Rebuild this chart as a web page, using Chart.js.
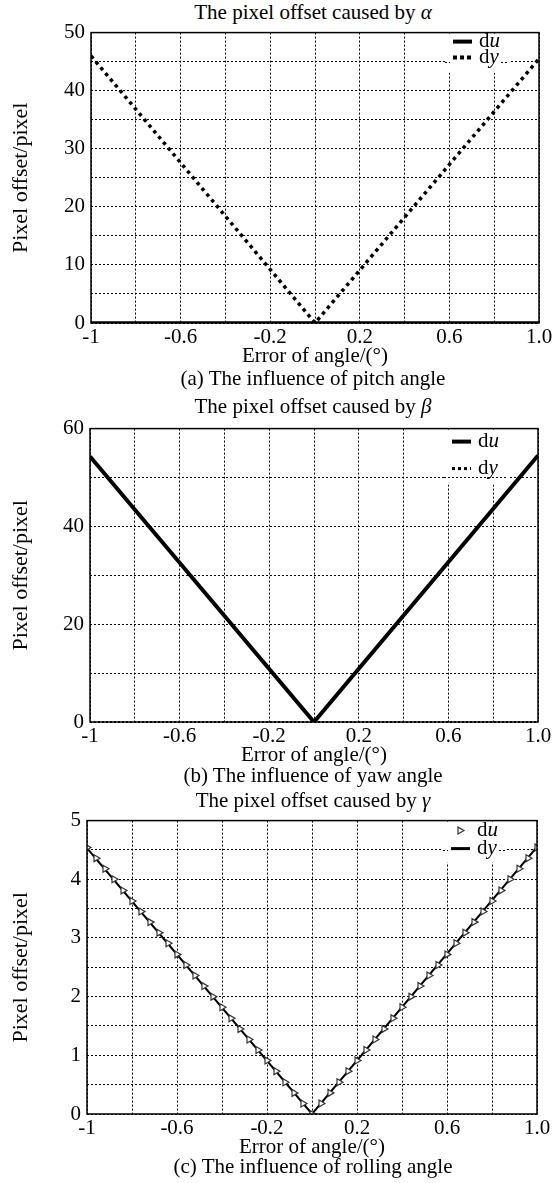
<!DOCTYPE html>
<html>
<head>
<meta charset="utf-8">
<script src="https://cdn.jsdelivr.net/npm/chart.js@4.4.0/dist/chart.umd.min.js"></script>
<style>
body { margin: 0; background: #fff; font-family: "Liberation Serif", serif; }
#page { position: relative; width: 555px; height: 1183px; overflow: hidden; }
.txt { position: absolute; left: 113px; width: 400px; text-align: center; font-size: 21px; line-height: 24px; color: #000; white-space: nowrap; }
canvas { position: absolute; left: 0; }
</style>
</head>
<body>
<div id="page">
  <div class="txt" style="top:0px">The pixel offset caused by <i>α</i></div>
  <canvas id="chartA"></canvas>
  <div class="txt" style="top:366px">(a) The influence of pitch angle</div>

  <div class="txt" style="top:394px">The pixel offset caused by <i>β</i></div>
  <canvas id="chartB"></canvas>
  <div class="txt" style="top:763px">(b) The influence of yaw angle</div>

  <div class="txt" style="top:788px">The pixel offset caused by <i>γ</i></div>
  <canvas id="chartC"></canvas>
  <div class="txt" style="top:1154px">(c) The influence of rolling angle</div>
</div>
<script>
// axe des abscisses, commun aux trois graphiques
const xTickVals = [-1, -0.6, -0.2, 0.2, 0.6, 1.0];
const xTickLabels = ['-1', '-0.6', '-0.2', '0.2', '0.6', '1.0'];

// (a) pitch angle
const xA = [-1, 0, 1];
const duA = [0, 0, 0];
const dyA = [46, 0, 45.5];
const yTicksA = [0, 10, 20, 30, 40, 50];

// (b) yaw angle
const xB = [-1, 0, 1];
const duB = [54.3, 0, 54.5];
const dyB = [0, 0, 0];
const yTicksB = [0, 20, 40, 60];

// (c) rolling angle
const xCu = [-1, -0.96, -0.92, -0.88, -0.84, -0.8, -0.76, -0.72, -0.68, -0.64, -0.6, -0.56, -0.52,
  -0.48, -0.44, -0.4, -0.36, -0.32, -0.28, -0.24, -0.2, -0.16, -0.12, -0.08, -0.04, 0,
  0.04, 0.08, 0.12, 0.16, 0.2, 0.24, 0.28, 0.32, 0.36, 0.4, 0.44, 0.48, 0.52, 0.56, 0.6,
  0.64, 0.68, 0.72, 0.76, 0.8, 0.84, 0.88, 0.92, 0.96, 1];
const duC = [4.54, 4.36, 4.18, 4.0, 3.81, 3.63, 3.45, 3.27, 3.09, 2.91, 2.72, 2.54, 2.36,
  2.18, 2.0, 1.82, 1.63, 1.45, 1.27, 1.09, 0.91, 0.73, 0.54, 0.36, 0.18, 0,
  0.18, 0.36, 0.54, 0.73, 0.91, 1.09, 1.27, 1.45, 1.63, 1.82, 2.0, 2.18, 2.36, 2.54, 2.72,
  2.91, 3.09, 3.27, 3.45, 3.63, 3.81, 4.0, 4.18, 4.36, 4.54];
const xCy = [-1, 0, 1];
const dyC = [4.53, 0, 4.55];
const yTicksC = [0, 1, 2, 3, 4, 5];

const serif = '"Liberation Serif", "Times New Roman", serif';

function pts(xs, ys) {
  return xs.map((x, i) => ({ x: x, y: ys[i] }));
}

function tickLabel(vals, labels, v) {
  for (let i = 0; i < vals.length; i++) {
    if (Math.abs(vals[i] - v) < 1e-6) return labels[i];
  }
  return '';
}

// cadre complet autour de la zone du graphique
const frame = {
  id: 'frame',
  afterDatasetsDraw(chart) {
    const a = chart.chartArea, ctx = chart.ctx;
    ctx.save();
    ctx.strokeStyle = '#000';
    ctx.lineWidth = 1.5;
    ctx.setLineDash([]);
    ctx.strokeRect(a.left, a.top, a.right - a.left, a.bottom - a.top);
    ctx.restore();
  }
};

// légende dans le coin, "d" droit et la lettre en italique
const figLegend = {
  id: 'figLegend',
  beforeDatasetsDraw(chart, args, opts) {
    const a = chart.chartArea, ctx = chart.ctx, ys = chart.scales.y;
    const bx = a.right - 94, bw = 64, by = a.top + 1, bh = opts.height;
    ctx.save();
    ctx.fillStyle = '#fff';
    ctx.fillRect(bx, by, bw, bh);
    ctx.strokeStyle = '#000';
    ctx.lineWidth = 1;
    ctx.setLineDash([2, 2]);
    ys.ticks.forEach(t => {
      const y = Math.round(ys.getPixelForValue(t.value)) + 0.5;
      if (y > by + 1 && y < by + bh) {
        ctx.beginPath();
        ctx.moveTo(bx, y);
        ctx.lineTo(bx + bw, y);
        ctx.stroke();
      }
    });
    const sx = a.right - 86, tx = a.right - 60;
    opts.items.forEach((it, i) => {
      const y = a.top + opts.rows[i];
      ctx.fillStyle = '#fff';
      ctx.fillRect(sx - 3, y - 7, tx + 25 - sx, 14);
      ctx.strokeStyle = '#000';
      ctx.setLineDash(it.dash || []);
      if (it.kind === 'tri') {
        const cx = sx + 9, r = 4;
        ctx.lineWidth = 1.2;
        ctx.strokeStyle = '#333';
        ctx.beginPath();
        ctx.moveTo(cx + r, y);
        ctx.lineTo(cx - r / 2, y - r * 0.87);
        ctx.lineTo(cx - r / 2, y + r * 0.87);
        ctx.closePath();
        ctx.stroke();
      } else {
        ctx.lineWidth = it.width;
        ctx.lineCap = 'butt';
        ctx.beginPath();
        ctx.moveTo(sx, y);
        ctx.lineTo(sx + 19, y);
        ctx.stroke();
      }
      ctx.fillStyle = '#000';
      ctx.textBaseline = 'middle';
      ctx.font = '21px ' + serif;
      ctx.fillText('d', tx, y);
      const w = ctx.measureText('d').width;
      ctx.font = 'italic 21px ' + serif;
      ctx.fillText(it.name, tx + w, y);
    });
    ctx.restore();
  }
};

function makeChart(id, box, yMax, yStep, yTicks, datasets, legend) {
  const canvas = document.getElementById(id);
  const top = box.top - 14;
  canvas.width = 555;
  canvas.height = box.bottom - box.top + 14 + 46;
  canvas.style.top = top + 'px';
  return new Chart(canvas, {
    type: 'line',
    data: { datasets: datasets },
    options: {
      responsive: false,
      animation: false,
      devicePixelRatio: 1,
      layout: { padding: { left: 0, top: 14, right: 555 - box.right, bottom: 0 } },
      plugins: {
        legend: { display: false },
        tooltip: { enabled: false },
        figLegend: legend
      },
      scales: {
        x: {
          type: 'linear',
          min: -1,
          max: 1,
          afterFit: s => { s.height = 46; },
          ticks: {
            stepSize: 0.2,
            autoSkip: false,
            maxRotation: 0,
            padding: 2,
            color: '#000',
            font: { family: serif, size: 21 },
            callback: v => tickLabel(xTickVals, xTickLabels, v)
          },
          grid: { color: '#000', lineWidth: 1, drawTicks: false },
          border: { display: false, dash: [2, 2] },
          title: {
            display: true,
            text: 'Error of angle/(°)',
            color: '#000',
            font: { family: serif, size: 21 },
            padding: 0
          }
        },
        y: {
          min: 0,
          max: yMax,
          afterFit: s => { s.width = box.left; },
          ticks: {
            stepSize: yStep,
            autoSkip: false,
            padding: 6,
            color: '#000',
            font: { family: serif, size: 21 },
            callback: v => tickLabel(yTicks, yTicks.map(String), v)
          },
          grid: { color: '#000', lineWidth: 1, drawTicks: false },
          border: { display: false, dash: [2, 2] },
          title: {
            display: true,
            text: 'Pixel offset/pixel',
            color: '#000',
            font: { family: serif, size: 22 },
            padding: { top: 8, bottom: 0 }
          }
        }
      }
    },
    plugins: [figLegend, frame]
  });
}

makeChart('chartA', { left: 91, right: 539, top: 28, bottom: 323 }, 50, 5, yTicksA, [
  { label: 'du', data: pts(xA, duA), borderColor: '#000', borderWidth: 3.5, pointRadius: 0 },
  { label: 'dy', data: pts(xA, dyA), borderColor: '#000', borderWidth: 3.5, borderDash: [3.5, 4],
    borderCapStyle: 'butt', pointRadius: 0 }
], {
  height: 39, rows: [9, 25],
  items: [{ name: 'u', kind: 'line', width: 4 }, { name: 'y', kind: 'line', width: 4, dash: [4, 3] }]
});

makeChart('chartB', { left: 90, right: 538, top: 424, bottom: 722 }, 60, 10, yTicksB, [
  { label: 'du', data: pts(xB, duB), borderColor: '#000', borderWidth: 4, pointRadius: 0 },
  { label: 'dy', data: pts(xB, dyB), borderColor: '#000', borderWidth: 1.5, borderDash: [2, 2],
    pointRadius: 0 }
], {
  height: 55, rows: [13, 40],
  items: [{ name: 'u', kind: 'line', width: 4 }, { name: 'y', kind: 'line', width: 3, dash: [3, 3] }]
});

makeChart('chartC', { left: 87, right: 537, top: 816, bottom: 1114 }, 5, 0.5, yTicksC, [
  { label: 'du', data: pts(xCu, duC), showLine: false, pointStyle: 'triangle', rotation: 90,
    pointRadius: 4, pointBorderWidth: 1.2, pointBorderColor: '#333', pointBackgroundColor: '#fff' },
  { label: 'dy', data: pts(xCy, dyC), borderColor: '#000', borderWidth: 2, pointRadius: 0 }
], {
  height: 41, rows: [10, 28],
  items: [{ name: 'u', kind: 'tri' }, { name: 'y', kind: 'line', width: 3 }]
});
</script>
</body>
</html>
